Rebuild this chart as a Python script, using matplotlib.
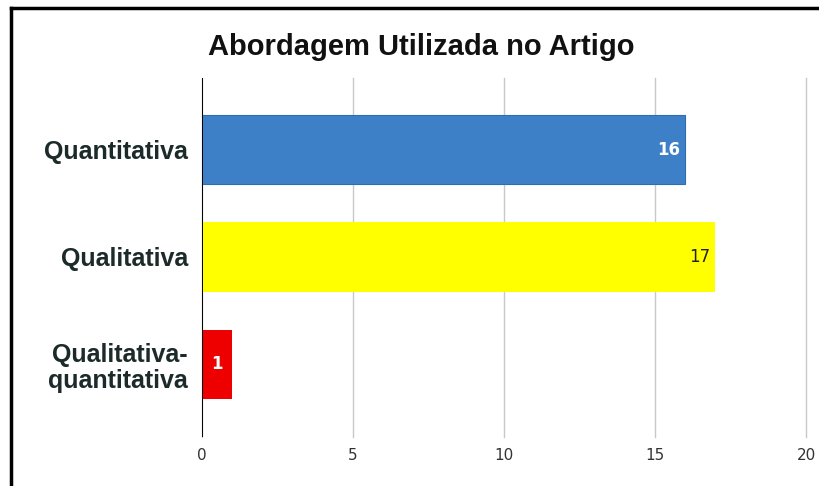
import matplotlib
matplotlib.use("Agg")
import matplotlib.pyplot as plt
from matplotlib.lines import Line2D

categories = ["Quantitativa", "Qualitativa", "Qualitativa-\nquantitativa"]
values = [16, 17, 1]
colors = ["#3e80c8", "#ffff00", "#ee0000"]
label_colors = ["white", "#222222", "white"]
label_weights = ["bold", "normal", "bold"]
xticks = [0, 5, 10, 15, 20]
title = "Abordagem Utilizada no Artigo"

fig = plt.figure(figsize=(8.19, 4.86), dpi=100)
fig.patch.set_facecolor("white")
ax = fig.add_axes([202/819, 49/486, 604/819, 359/486])

pos = list(range(len(categories)))
bars = ax.barh(pos, values, height=0.645, color=colors, zorder=3)
bars[0].set_edgecolor("#2f6db3")
bars[0].set_linewidth(0.8)

ax.set_xlim(0, 20)
ax.set_ylim(2.68, -0.67)
ax.set_xticks(xticks)
ax.set_xticklabels([str(t) for t in xticks], fontsize=11, color="#333333",
                   family="DejaVu Sans")
ax.set_yticks(pos)
ax.set_yticklabels(categories, fontsize=18, fontweight="bold", color="#1c2a2a",
                   family="Liberation Sans", linespacing=1.15)
ax.tick_params(axis="both", length=0)
ax.tick_params(axis="x", pad=8)
ax.tick_params(axis="y", pad=10)
for s in ax.spines.values():
    s.set_visible(False)
ax.grid(axis="x", color="#c8c8c8", linewidth=1.0, zorder=0)
for gl in ax.get_xgridlines():
    gl.set_clip_on(False)
ax.axvline(0, color="black", linewidth=1.4, zorder=4)

for i, (v, c, w) in enumerate(zip(values, label_colors, label_weights)):
    if v < 3:
        ax.text(v / 2, i, str(v), ha="center", va="center", color=c,
                fontweight=w, fontsize=12, family="DejaVu Sans", zorder=5)
    else:
        ax.text(v - 0.18, i, str(v), ha="right", va="center", color=c,
                fontweight=w, fontsize=12, family="DejaVu Sans", zorder=5)

fig.text(421/819, 1 - 47/486, title, ha="center", va="center", fontsize=21,
         fontweight="bold", color="#111111", family="Liberation Sans")

# outer frame (top and left edges)
fig.add_artist(Line2D([11/819, 1], [1 - 8/486, 1 - 8/486], transform=fig.transFigure,
                      color="black", linewidth=2.5))
fig.add_artist(Line2D([11/819, 11/819], [0, 1 - 8/486], transform=fig.transFigure,
                      color="black", linewidth=2.5))

fig.savefig("out.png", dpi=100, facecolor="white")
